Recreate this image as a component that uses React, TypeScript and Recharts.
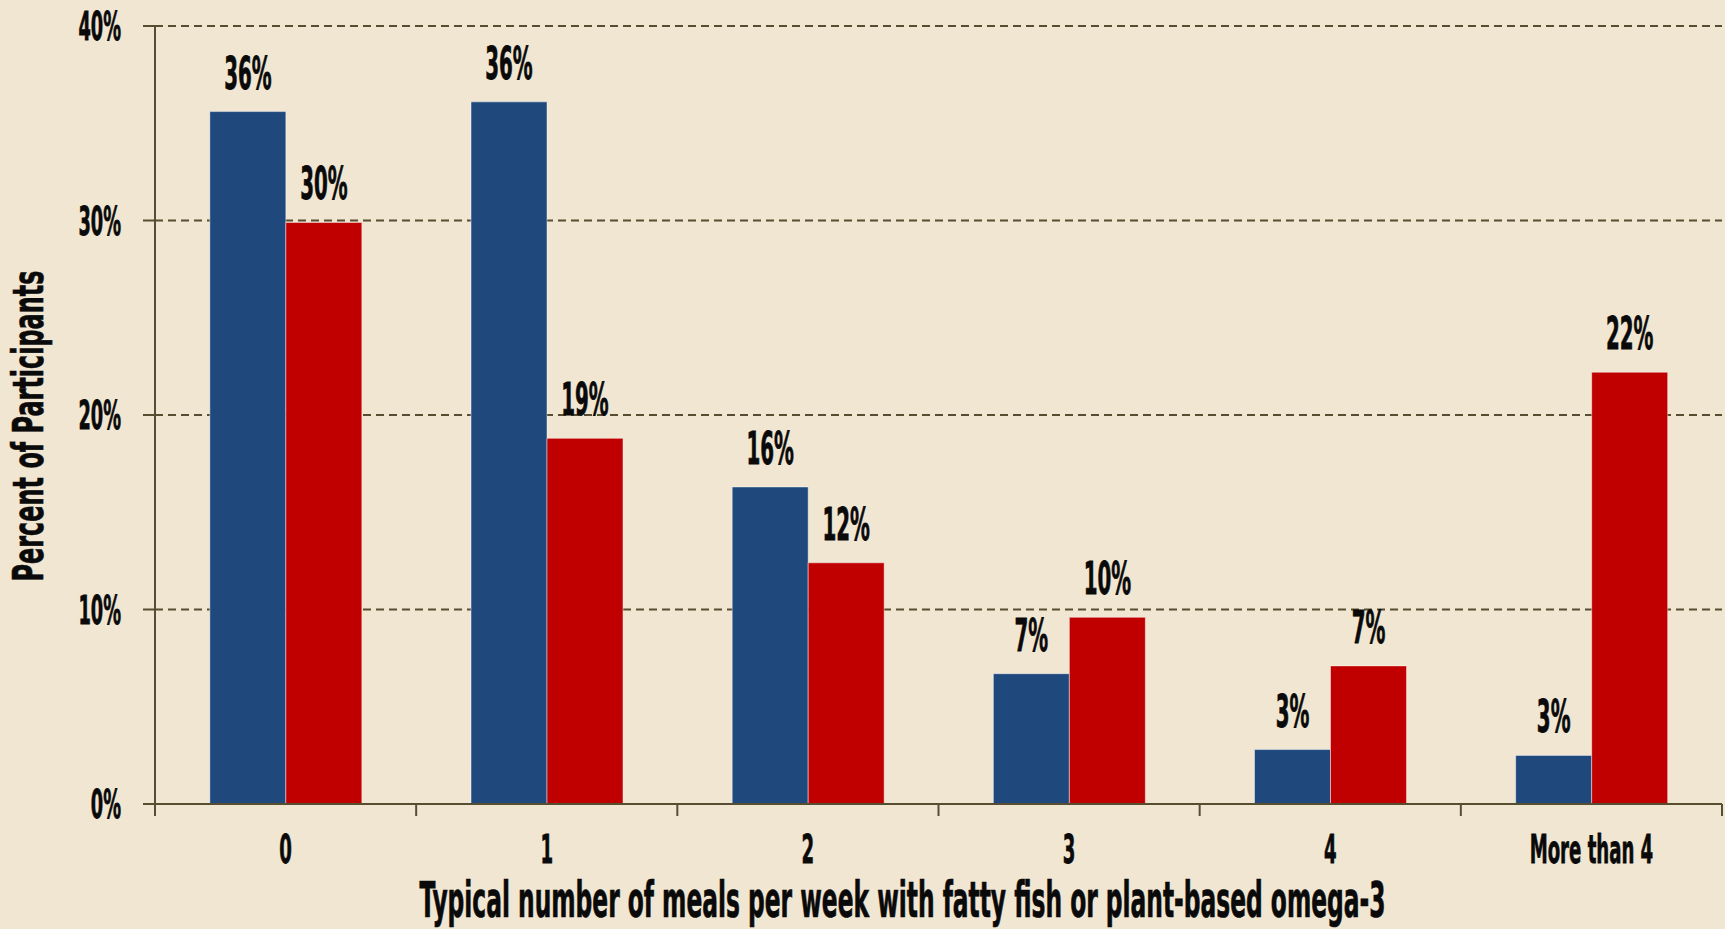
import { BarChart, Bar, XAxis, YAxis, CartesianGrid, LabelList, Label } from 'recharts'

const categories = ['0', '1', '2', '3', '4', 'More than 4']
const seriesA = [35.6, 36.1, 16.3, 6.7, 2.8, 2.5]
const seriesB = [29.9, 18.8, 12.4, 9.6, 7.1, 22.2]
const yTicks = [0, 10, 20, 30, 40]

const data = categories.map((c, i) => ({ meals: c, groupA: seriesA[i], groupB: seriesB[i] }))

const FONT = "'DejaVu Sans Condensed', 'DejaVu Sans', sans-serif"
const AXIS = '#574d30'
const BG = '#f1e6d2'

// condensed look: squeeze glyphs horizontally, stretch vertically
const TallText = ({ x, y, size, stretch, squeeze = 0.76, anchor = 'middle', rotate, children }: any) => (
  <text
    transform={`translate(${x},${y})${rotate ? ` rotate(${rotate})` : ''} scale(${squeeze},${stretch})`}
    fontSize={size}
    fontFamily={FONT}
    fontWeight="bold"
    textAnchor={anchor}
    fill="#0a0a0a"
    stroke="#0a0a0a"
    strokeWidth={0.5}
  >
    {children}
  </text>
)

const YTick = ({ x, y, payload }: any) => (
  <TallText x={x} y={y + 0.364 * 26 * 1.52} size={26} stretch={1.52} anchor="end">
    {payload.value}%
  </TallText>
)

const XTick = ({ x, y, payload, index }: any) => {
  const half = payload.offset ?? (1725 - 155 - 3) / 12
  const left = x - half
  const right = x + half
  return (
    <g>
      <line x1={left} y1={y} x2={left} y2={y + 12} stroke={AXIS} strokeWidth={2} />
      {index === categories.length - 1 && (
        <line x1={right} y1={y} x2={right} y2={y + 12} stroke={AXIS} strokeWidth={2} />
      )}
      <TallText x={x} y={y + 59} size={26.5} stretch={1.5}>
        {payload.value}
      </TallText>
    </g>
  )
}

const BarValue = ({ x, y, width, value }: any) => (
  <TallText x={x + width / 2} y={y - 23} size={29} stretch={1.52}>
    {Math.round(value)}%
  </TallText>
)

const XTitle = ({ viewBox }: any) => (
  <TallText x={viewBox.x + viewBox.width / 2 - 36} y={viewBox.y + 113} size={33.5} stretch={1.46} squeeze={0.775}>
    Typical number of meals per week with fatty fish or plant-based omega-3
  </TallText>
)

const YTitle = ({ viewBox }: any) => (
  <TallText x={43} y={viewBox.y + viewBox.height / 2 + 11} size={35.5} stretch={1.22} squeeze={0.75} rotate={-90}>
    Percent of Participants
  </TallText>
)

export default function App() {
  return (
    <div style={{ position: 'absolute', left: 0, top: 0, width: 1725, height: 929, background: BG }}>
      <BarChart
        width={1725}
        height={929}
        data={data}
        margin={{ top: 26, right: 3, bottom: 0, left: 0 }}
        barCategoryGap="21%"
        barGap={0}
      >
        <CartesianGrid vertical={false} stroke={AXIS} strokeWidth={2} strokeDasharray="8 5" />
        <XAxis
          dataKey="meals"
          height={125}
          interval={0}
          tickLine={false}
          tickSize={0}
          tickMargin={0}
          axisLine={{ stroke: AXIS, strokeWidth: 2 }}
          tick={<XTick />}
        >
          <Label content={<XTitle />} />
        </XAxis>
        <YAxis
          width={155}
          domain={[0, 40]}
          ticks={yTicks}
          interval={0}
          tickSize={12}
          tickMargin={22}
          tickLine={{ stroke: AXIS, strokeWidth: 2 }}
          axisLine={{ stroke: AXIS, strokeWidth: 2 }}
          tick={<YTick />}
        >
          <Label content={<YTitle />} />
        </YAxis>
        <Bar dataKey="groupA" fill="#1f497d" stroke="rgba(255,255,255,0.45)" strokeWidth={1} isAnimationActive={false}>
          <LabelList dataKey="groupA" content={<BarValue />} />
        </Bar>
        <Bar dataKey="groupB" fill="#c00000" stroke="rgba(255,255,255,0.45)" strokeWidth={1} isAnimationActive={false}>
          <LabelList dataKey="groupB" content={<BarValue />} />
        </Bar>
      </BarChart>
    </div>
  )
}
